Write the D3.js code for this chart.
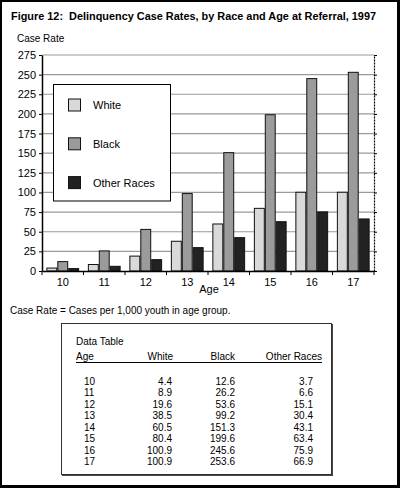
<!DOCTYPE html>
<html>
<head>
<meta charset="utf-8">
<script src="https://cdn.jsdelivr.net/npm/d3@7"></script>
<style>
  body { margin: 0; background: #fff; }
  svg { display: block; font-family: "Liberation Sans", Arial, sans-serif; }
</style>
</head>
<body>
<div id="chart"></div>
<script>
const ages = ["10", "11", "12", "13", "14", "15", "16", "17"];
const white = [4.4, 8.9, 19.6, 38.5, 60.5, 80.4, 100.9, 100.9];
const black = [12.6, 26.2, 53.6, 99.2, 151.3, 199.6, 245.6, 253.6];
const other = [3.7, 6.6, 15.1, 30.4, 43.1, 63.4, 75.9, 66.9];
const seriesNames = ["White", "Black", "Other Races"];
const yTicks = [0, 25, 50, 75, 100, 125, 150, 175, 200, 225, 250, 275];

const colors = { "White": "#d9d9d9", "Black": "#9b9b9b", "Other Races": "#222222" };
const series = { "White": white, "Black": black, "Other Races": other };

const W = 400, H = 488;
const plot = { left: 42, right: 374, top: 55, bottom: 271 };

const svg = d3.select("#chart")
    .append("svg")
    .attr("width", W)
    .attr("height", H);

// outer frame
svg.append("rect").attr("width", W).attr("height", H).attr("fill", "#000");
svg.append("rect").attr("x", 2).attr("y", 2).attr("width", 395).attr("height", 483).attr("fill", "#fff");

svg.append("text")
    .attr("x", 11).attr("y", 19.5)
    .attr("font-size", 11.5).attr("font-weight", "bold")
    .attr("textLength", 365).attr("lengthAdjust", "spacingAndGlyphs")
    .style("white-space", "pre")
    .text("Figure 12:  Delinquency Case Rates, by Race and Age at Referral, 1997");

svg.append("text")
    .attr("x", 17).attr("y", 41.5)
    .attr("font-size", 10)
    .text("Case Rate");

const x0 = d3.scaleBand()
    .domain(ages)
    .range([plot.left, plot.right])
    .padding(0);

const x1 = d3.scaleBand()
    .domain(seriesNames)
    .range([0, x0.bandwidth()])
    .paddingInner(0)
    .paddingOuter(0.4);

const y = d3.scaleLinear()
    .domain([0, 275])
    .range([plot.bottom, plot.top]);

// gridlines
svg.append("g")
    .selectAll("line")
    .data(yTicks.slice(1))
    .join("line")
    .attr("x1", plot.left).attr("x2", plot.right)
    .attr("y1", d => y(d)).attr("y2", d => y(d))
    .attr("stroke", "#9a9a9a")
    .attr("stroke-width", 1.2);

// bars
const groups = svg.append("g")
    .selectAll("g")
    .data(ages)
    .join("g")
    .attr("transform", d => `translate(${x0(d)},0)`);

groups.selectAll("rect")
    .data((d, i) => seriesNames.map(s => ({ key: s, value: series[s][i] })))
    .join("rect")
    .attr("x", d => x1(d.key) + 0.5)
    .attr("y", d => y(d.value) + 0.5)
    .attr("width", x1.bandwidth() - 1)
    .attr("height", d => y(0) - y(d.value) - 0.5)
    .attr("fill", d => colors[d.key])
    .attr("stroke", "#111")
    .attr("stroke-width", 1);

// left axis
const yAxis = svg.append("g")
    .attr("transform", `translate(${plot.left},0)`)
    .call(d3.axisLeft(y).tickValues(yTicks).tickSize(3).tickPadding(3).tickSizeOuter(0));
yAxis.selectAll("text").attr("font-size", 11).attr("fill", "#000");
yAxis.select(".domain").attr("stroke-width", 1.5);

// right axis
const yAxisR = svg.append("g")
    .attr("transform", `translate(${plot.right},0)`)
    .call(d3.axisRight(y).tickValues(yTicks).tickSize(3).tickFormat("").tickSizeOuter(0));
yAxisR.select(".domain").attr("stroke-dasharray", "2,1").attr("stroke-width", 1.2);

// bottom axis
const xAxis = svg.append("g")
    .attr("transform", `translate(0,${plot.bottom})`)
    .call(d3.axisBottom(x0).tickSize(0).tickPadding(7).tickSizeOuter(0));
xAxis.selectAll("text").attr("font-size", 11).attr("fill", "#000");
xAxis.select(".domain").attr("stroke-width", 1.5);

svg.append("g")
    .selectAll("line")
    .data(ages.map(a => x0(a)).concat([x0.range()[1]]))
    .join("line")
    .attr("x1", d => d).attr("x2", d => d)
    .attr("y1", plot.bottom).attr("y2", plot.bottom + 4)
    .attr("stroke", "#000");

svg.append("text")
    .attr("x", 209).attr("y", 293)
    .attr("text-anchor", "middle")
    .attr("font-size", 11)
    .text("Age");

// legend
const legend = svg.append("g");
legend.append("rect")
    .attr("x", 53.5).attr("y", 84.5)
    .attr("width", 117).attr("height", 116.5)
    .attr("fill", "#fff").attr("stroke", "#000");

const legendItems = legend.selectAll("g")
    .data(seriesNames)
    .join("g")
    .attr("transform", (d, i) => `translate(68,${98.5 + i * 38.8})`);
legendItems.append("rect")
    .attr("x", 0.5).attr("y", 0.5)
    .attr("width", 12).attr("height", 12)
    .attr("fill", d => colors[d]).attr("stroke", "#111");
legendItems.append("text")
    .attr("x", 25).attr("y", 10.5)
    .attr("font-size", 11)
    .text(d => d);

svg.append("text")
    .attr("x", 10).attr("y", 314)
    .attr("font-size", 10)
    .text("Case Rate = Cases per 1,000 youth in age group.");

// data table
const tbl = svg.append("g");
tbl.append("rect")
    .attr("x", 62).attr("y", 324)
    .attr("width", 271).attr("height", 152)
    .attr("fill", "#444");
tbl.append("rect")
    .attr("x", 61.5).attr("y", 323.5)
    .attr("width", 270).attr("height", 151)
    .attr("fill", "#fff").attr("stroke", "#333");

tbl.append("text")
    .attr("x", 76).attr("y", 344.5)
    .attr("font-size", 10)
    .text("Data Table");

const headers = [
    { label: "Age", x: 76, anchor: "start" },
    { label: "White", x: 173, anchor: "end" },
    { label: "Black", x: 235, anchor: "end" },
    { label: "Other Races", x: 322, anchor: "end" }
];
tbl.selectAll("text.hdr")
    .data(headers)
    .join("text")
    .attr("class", "hdr")
    .attr("x", d => d.x).attr("y", 360)
    .attr("text-anchor", d => d.anchor)
    .attr("font-size", 10)
    .text(d => d.label);
tbl.append("line")
    .attr("x1", 76).attr("x2", 322)
    .attr("y1", 362.5).attr("y2", 362.5)
    .attr("stroke", "#000");

const fmt = d3.format(".1f");
const cols = [
    { x: 84, anchor: "start", get: i => ages[i] },
    { x: 172, anchor: "end", get: i => fmt(white[i]) },
    { x: 235, anchor: "end", get: i => fmt(black[i]) },
    { x: 313, anchor: "end", get: i => fmt(other[i]) }
];
const rows = tbl.selectAll("g.row")
    .data(ages)
    .join("g")
    .attr("class", "row")
    .attr("transform", (d, i) => `translate(0,${384.5 + i * 11.57})`);
cols.forEach(c => {
    rows.append("text")
        .attr("x", c.x)
        .attr("text-anchor", c.anchor)
        .attr("font-size", 10)
        .text((d, i) => c.get(i));
});
</script>
</body>
</html>
